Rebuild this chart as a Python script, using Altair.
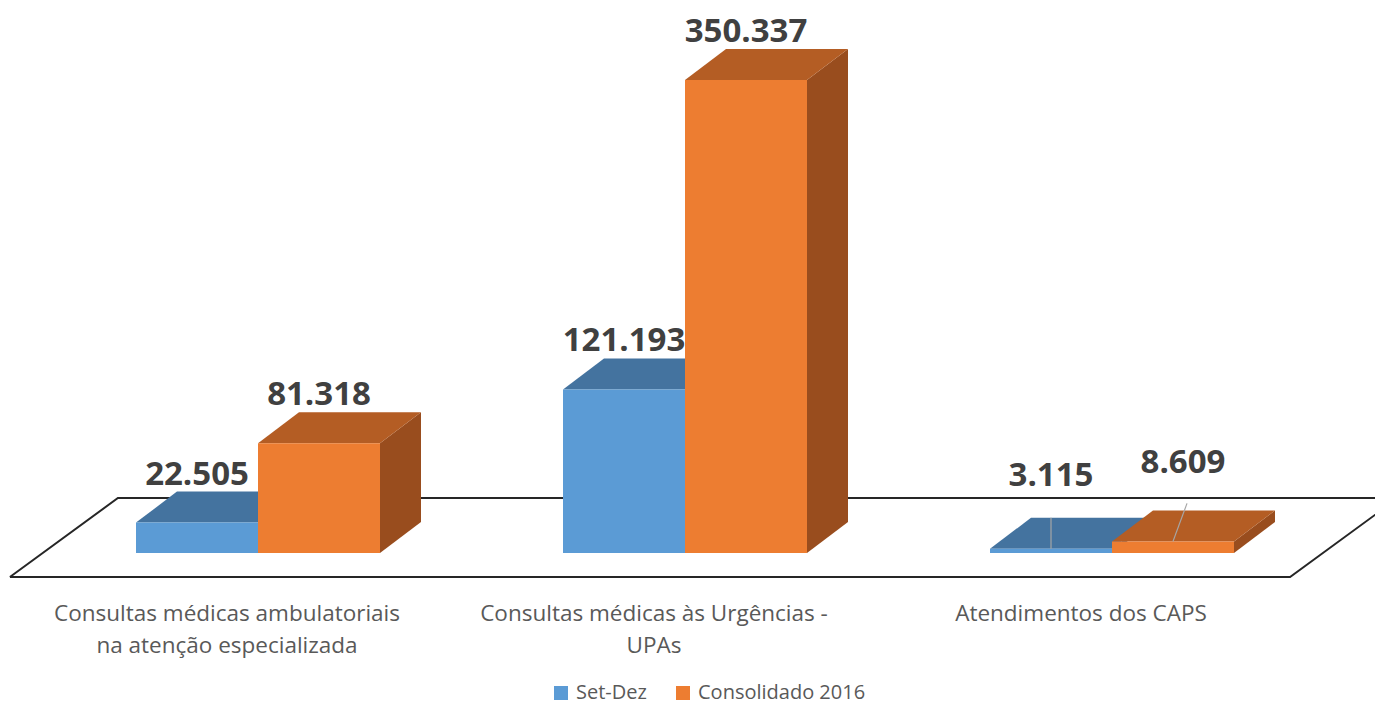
import altair as alt
import pandas as pd

# ---------------- data ----------------
categories = [
    "Consultas médicas ambulatoriais\nna atenção especializada",
    "Consultas médicas às Urgências -\nUPAs",
    "Atendimentos dos CAPS",
]
series = ["Set-Dez", "Consolidado 2016"]
set_dez = [22505, 121193, 3115]
consolidado_2016 = [81318, 350337, 8609]

# ---------------- style / layout ----------------
W, H = 1367, 698
PX_PER_X = 427.0            # pixels per category step
PX_PER_V = 0.00135          # pixels per value unit
X0_PX = 250.0               # pixel of first category centre
Y0_PX = 545.0               # pixel of value 0 (bar base)
XU = 1.0 / PX_PER_X         # x units per px
YU = 1.0 / PX_PER_V         # y units per px
X_DOMAIN = [-X0_PX * XU, (W - X0_PX) * XU]
Y_DOMAIN = [-(H - Y0_PX) * YU, Y0_PX * YU]

BAR_W = 122 * XU
DEPTH_X = 41 * XU
DEPTH_Y = 31 * YU

FRONT = {"Set-Dez": "#5B9BD5", "Consolidado 2016": "#ED7D31"}
TOP = {"Set-Dez": "#44739F", "Consolidado 2016": "#B45D24"}
SIDE = {"Set-Dez": "#3E6891", "Consolidado 2016": "#994D1E"}

FONT = "Open Sans"

# ---------------- derived tables ----------------
vals = {"Set-Dez": set_dez, "Consolidado 2016": consolidado_2016}
rows = []
for g in range(len(categories)):
    for s, name in enumerate(series):
        v = float(vals[name][g])
        x0 = g + (s - 1) * BAR_W
        rows.append(dict(bar=f"g{g}s{s}", g=g, series=name, value=v,
                         x0=x0, x1=x0 + BAR_W, base=0.0,
                         label=f"{int(v):,}".replace(",", ".")))
bars = pd.DataFrame(rows)

top_rows, side_rows = [], []
for r in rows:
    v, x0, x1 = r["value"], r["x0"], r["x1"]
    for k, (xx, lo, hi) in enumerate([
            (x0, v, v), (x0 + DEPTH_X, v, v + DEPTH_Y),
            (x1, v, v + DEPTH_Y), (x1 + DEPTH_X, v + DEPTH_Y, v + DEPTH_Y)]):
        top_rows.append(dict(bar=r["bar"], series=r["series"], k=k, xx=xx, lo=lo, hi=hi))
    for k, (xx, lo, hi) in enumerate([
            (x1, 0.0, v), (x1 + DEPTH_X, DEPTH_Y, v + DEPTH_Y)]):
        side_rows.append(dict(bar=r["bar"], series=r["series"], k=k, xx=xx, lo=lo, hi=hi))
tops = pd.DataFrame(top_rows)
sides = pd.DataFrame(side_rows)

# floor outline (parallelogram under the bars)
FL, FR = -0.581, 2.417
F_FRONT, F_BACK_DX, F_BACK = -24 * YU, 108 * XU, 55 * YU
floor = pd.DataFrame(dict(
    k=[0, 1, 2, 3, 4],
    xx=[FL, FL + F_BACK_DX, FR + F_BACK_DX, FR, FL],
    yy=[F_FRONT, F_BACK, F_BACK, F_FRONT, F_FRONT],
))

# value labels
lab = bars.copy()
lab["xc"] = (lab.x0 + lab.x1) / 2
small = lab.value < 20000
lab["base_v"] = lab.value.where(~small, 16110 + 1.73 * lab.value)
lab["ly"] = lab.base_v + DEPTH_Y + 17 * YU
lab["ldx"] = 0.0
lab.loc[small & (lab.series == "Consolidado 2016"), "ldx"] = 10.0
lab["lx"] = lab.xc + lab.ldx * XU

lead = lab[small].copy()
lead["lx0"] = lead.xc
lead["ly0"] = lead.value
lead["lx1"] = lead.xc + 1.4 * lead.ldx * XU
lead["ly1"] = lead.value + (31 + 0.7 * lead.ldx) * YU

cats = pd.DataFrame(dict(g=range(3), cat=categories))
cats["cx"] = cats.g - 31 * XU
cats["cy"] = 0.0

# ---------------- encodings ----------------
def X(f):
    return alt.X(f"{f}:Q", scale=alt.Scale(domain=X_DOMAIN, nice=False, zero=False), axis=None)

def Y(f):
    return alt.Y(f"{f}:Q", scale=alt.Scale(domain=Y_DOMAIN, nice=False, zero=False), axis=None)

floor_layer = alt.Chart(floor).mark_line(color="#262626", strokeWidth=2, clip=True).encode(
    x=X("xx"), y=Y("yy"), order="k:Q")


def faces(df, colors, name):
    sub = df[df.series == name]
    return alt.Chart(sub).mark_area(orient="vertical", color=colors[name],
                                    opacity=1, strokeWidth=0).encode(
        x=X("xx"), y=Y("lo"), y2=alt.Y2("hi"), detail="bar:N")


face_layers = []
for name in series:
    face_layers.append(faces(sides, SIDE, name))
    face_layers.append(faces(tops, TOP, name))

front_layer = alt.Chart(bars).mark_rect().encode(
    x=X("x0"), x2="x1:Q", y=Y("base"), y2="value:Q",
    color=alt.Color("series:N",
                    scale=alt.Scale(domain=series, range=[FRONT[s] for s in series]),
                    legend=alt.Legend(title=None, orient="none", direction="horizontal",
                                      legendX=543, legendY=675,
                                      symbolType="square", symbolSize=196,
                                      symbolStrokeWidth=0, labelFont=FONT,
                                      labelFontSize=20, labelColor="#595959",
                                      labelLimit=0, columnPadding=26, labelOffset=5)))

lead_layer = alt.Chart(lead).mark_rule(color="#A6A6A6", strokeWidth=1.2).encode(
    x=X("lx0"), x2="lx1:Q", y=Y("ly0"), y2="ly1:Q")

label_layer = alt.Chart(lab).mark_text(
    font=FONT, fontSize=33, fontWeight="bold", color="#404040",
    align="center", baseline="middle").encode(
    x=X("lx"), y=Y("ly"), text="label:N")

cat_layer = alt.Chart(cats).mark_text(
    font=FONT, fontSize=22.5, color="#595959", align="center",
    baseline="top", dy=50, lineBreak="\n", lineHeight=32).encode(
    x=X("cx"), y=Y("cy"), text="cat:N")

chart = alt.layer(
    floor_layer, *face_layers, front_layer, lead_layer, label_layer, cat_layer
).properties(
    width=W, height=H, autosize=alt.AutoSizeParams(type="none"), padding=0
).configure_view(stroke=None)

chart.save("out.html", embed_options={"renderer": "svg", "actions": False})
